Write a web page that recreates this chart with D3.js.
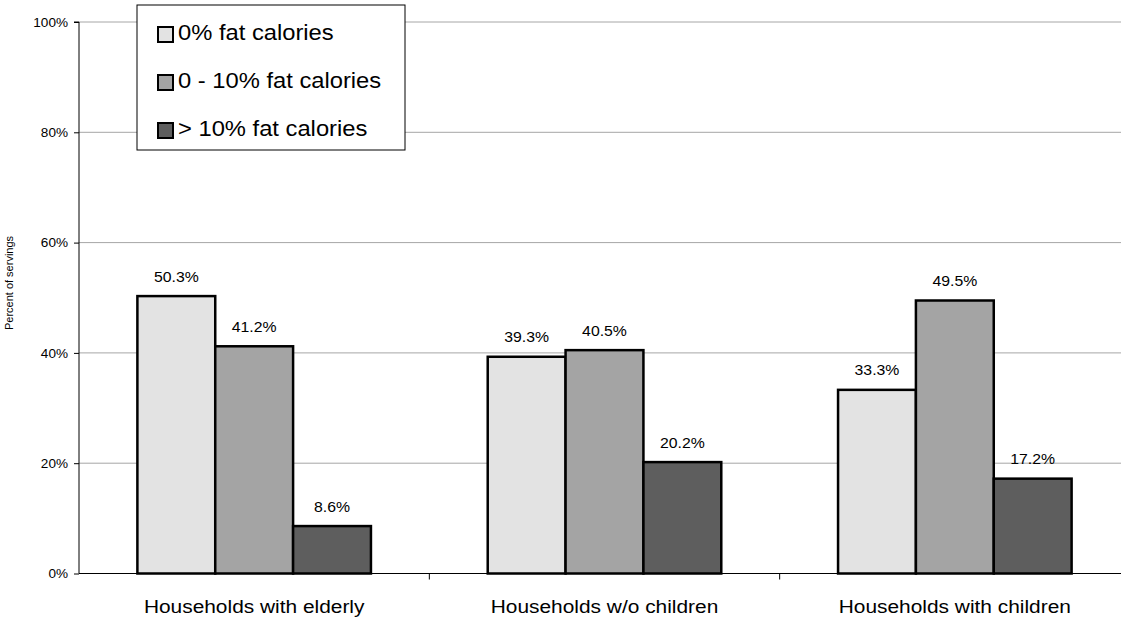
<!DOCTYPE html>
<html>
<head>
<meta charset="utf-8">
<script src="https://cdn.jsdelivr.net/npm/d3@7"></script>
<style>
  html, body { margin: 0; padding: 0; background: #fff; }
  svg { display: block; font-family: "Liberation Sans", Arial, sans-serif; }
</style>
</head>
<body>
<svg id="chart" width="1121" height="617"></svg>
<script>
// Share of servings by fat-calorie class, per household type
const categories = ["Households with elderly", "Households w/o children", "Households with children"];
const seriesNames = ["0% fat calories", "0 - 10% fat calories", "> 10% fat calories"];
const seriesColors = ["#e3e3e3", "#a4a4a4", "#5e5e5e"];
const zeroFat = [50.3, 39.3, 33.3];
const lowFat = [41.2, 40.5, 49.5];
const highFat = [8.6, 20.2, 17.2];
const yTicks = [0, 20, 40, 60, 80, 100];

const series = [zeroFat, lowFat, highFat];

// text in this chart is drawn slightly wide
const WIDE = 1.13;
function wideText(sel, sx) {
  return sel.attr("transform", function () {
    const x = +this.getAttribute("data-x"), y = +this.getAttribute("data-y");
    return `translate(${x},${y}) scale(${sx},1)`;
  });
}

const svg = d3.select("#chart");
const plot = { left: 79, right: 1130, top: 22, bottom: 573.5 };

const x0 = d3.scaleBand().domain(categories).range([plot.left, plot.right]).paddingInner(0).paddingOuter(0);
const groupPad = x0.bandwidth() / 6;
const x1 = d3.scaleBand().domain(d3.range(series.length))
  .range([groupPad, x0.bandwidth() - groupPad]).padding(0);
const y = d3.scaleLinear().domain([0, 100]).range([plot.bottom, plot.top]);

// gridlines
svg.append("g").selectAll("line").data(yTicks.filter(t => t > 0)).join("line")
  .attr("x1", plot.left).attr("x2", plot.right)
  .attr("y1", d => y(d)).attr("y2", d => y(d))
  .attr("stroke", "#a6a6a6").attr("stroke-width", 1);

// y axis
const yAxis = d3.axisLeft(y).tickValues(yTicks).tickFormat(d => d + "%").tickSize(5).tickPadding(6);
const gy = svg.append("g").attr("transform", `translate(${plot.left},0)`).call(yAxis);
gy.select(".domain").attr("stroke", "#000").attr("d", `M-5,${y(100)}H0V${y(0)}`);
gy.selectAll(".tick line").attr("stroke", "#000");
gy.selectAll(".tick text")
  .attr("font-size", 12).attr("fill", "#000")
  .attr("font-family", "Liberation Sans, Arial, sans-serif")
  .attr("x", null).attr("dy", null)
  .attr("data-x", -11).attr("data-y", 4.3)
  .call(wideText, WIDE);

// x axis baseline with category separators
const gx = svg.append("g").attr("transform", `translate(0,${plot.bottom})`)
  .call(d3.axisBottom(x0).tickSize(0).tickFormat(""));
gx.select(".domain").attr("stroke", "#000").attr("d", `M${plot.left},0H${plot.right}`);
gx.selectAll(".tick").remove();
gx.selectAll("line.sep").data(categories.slice(1)).join("line").attr("class", "sep")
  .attr("x1", d => x0(d)).attr("x2", d => x0(d))
  .attr("y1", 0).attr("y2", 6).attr("stroke", "#000");

// category labels
svg.append("g").selectAll("text").data(categories).join("text")
  .attr("data-x", d => x0(d) + x0.bandwidth() / 2)
  .attr("data-y", 613)
  .attr("text-anchor", "middle").attr("font-size", 18.5).attr("fill", "#000")
  .text(d => d)
  .call(wideText, WIDE);

// bars
const groups = svg.append("g").selectAll("g").data(categories).join("g")
  .attr("transform", d => `translate(${x0(d)},0)`);

groups.each(function (cat, ci) {
  const g = d3.select(this);
  series.forEach((vals, si) => {
    const v = vals[ci];
    g.append("rect")
      .attr("x", x1(si)).attr("y", y(v))
      .attr("width", x1.bandwidth()).attr("height", y(0) - y(v))
      .attr("fill", seriesColors[si]).attr("stroke", "#000").attr("stroke-width", 2.5);
    g.append("text")
      .attr("data-x", x1(si) + x1.bandwidth() / 2).attr("data-y", y(v) - 14.5)
      .attr("text-anchor", "middle").attr("font-size", 14).attr("fill", "#000")
      .text(v.toFixed(1) + "%")
      .call(wideText, WIDE);
  });
});

// y axis title
svg.append("text")
  .attr("transform", `translate(13,283) rotate(-90)`)
  .attr("text-anchor", "middle").attr("font-size", 11).attr("fill", "#000")
  .text("Percent of servings");

// legend
const legend = svg.append("g").attr("transform", "translate(137,5)");
legend.append("rect").attr("x", 0).attr("y", 0).attr("width", 268).attr("height", 145)
  .attr("fill", "#fff").attr("stroke", "#000").attr("stroke-width", 1);
const items = legend.selectAll("g").data(seriesNames).join("g")
  .attr("transform", (d, i) => `translate(20,${29 + i * 48})`);
items.append("rect").attr("x", 1).attr("y", -7).attr("width", 15).attr("height", 15)
  .attr("fill", (d, i) => seriesColors[i]).attr("stroke", "#000").attr("stroke-width", 2);
items.append("text")
  .attr("data-x", 21).attr("data-y", 6)
  .attr("font-size", 22).attr("fill", "#000").text(d => d)
  .call(wideText, 1.08);
</script>
</body>
</html>
